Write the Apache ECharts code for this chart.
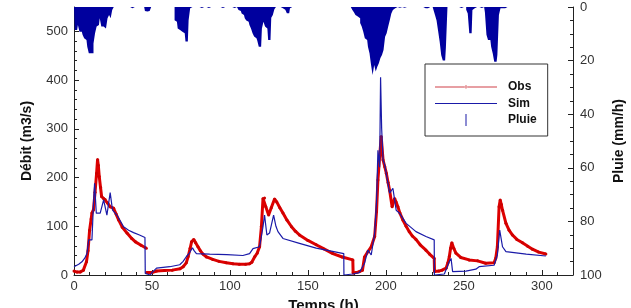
<!DOCTYPE html>
<html>
<head>
<meta charset="utf-8">
<script src="https://cdn.jsdelivr.net/npm/echarts@6/dist/echarts.min.js"></script>
<style>
  html, body { margin: 0; padding: 0; background: #fff; }
  #chart { width: 631px; height: 308px; }
</style>
</head>
<body>
<div id="chart"></div>
<script>
// debit observe [temps h, m3/s] (null = coupure)
const obs = [
  [0, 8], [2, 6], [4, 6], [6, 10], [8, 27], [9, 50], [10, 92], [11, 115], [11.5, 127], [12.5, 134],
  [13.5, 170], [14.5, 209], [15.1, 237], [15.6, 225], [16.2, 202], [17, 180], [17.7, 161], [19, 157],
  [20, 155], [21.5, 148], [23.2, 140], [25.4, 137], [27, 125], [28.6, 113], [31, 98], [34, 86],
  [37, 75], [39.4, 68], [43, 61], [46.4, 55], [46.45, null], [46.5, 5], [50, 5], [53, 8], [58, 9],
  [63, 10], [68, 13], [70, 17], [72, 25], [73.2, 38], [74.5, 55], [75.4, 68], [76.8, 73], [78, 66],
  [79.5, 58], [81, 50], [82.7, 43], [85, 37], [89, 32], [93, 28], [97.7, 25], [102, 23], [106, 22],
  [110, 22], [112.6, 23], [114, 26], [116, 38], [117.5, 45], [119, 58], [120.2, 100], [121.2, 157],
  [122.2, 158], [123, 140], [124.8, 123], [126.5, 138], [128.6, 156], [130, 150], [132, 138],
  [134, 127], [136.5, 113], [139.5, 99], [142, 90], [144.6, 82], [150, 71], [155.3, 62], [160, 54],
  [166, 44], [172, 37], [178.8, 31], [179, 4], [181, 5], [183, 7], [185, 10], [186.3, 37], [188.5, 48],
  [190.6, 58], [192.8, 79], [194, 130], [194.9, 195], [196, 243], [197, 284], [198.2, 236],
  [199.3, 222], [200.3, 209], [201.4, 190], [202.4, 174], [204, 140], [205.6, 157], [206.5, 150],
  [207.7, 140], [209, 127], [210.9, 113], [213, 100], [215, 89], [217, 80], [219.3, 73], [222, 62],
  [225.7, 51], [228, 43], [231, 34], [231.2, 7], [234, 8], [236, 10], [238.6, 14], [239.8, 25],
  [240.7, 38], [241.5, 55], [242.3, 66], [243.5, 55], [244.9, 45], [248, 36], [253.4, 31],
  [258.8, 29], [264, 24], [269.4, 25], [270.5, 35], [271.5, 58], [272.6, 140], [273.3, 154],
  [274, 145], [274.8, 133], [277, 106], [279, 92], [281.2, 82], [284, 73], [287.6, 66], [291, 59],
  [294, 53], [298, 47], [302.6, 43]
]

// debit simule [temps h, m3/s]
const sim = [
  [0, 17], [3, 22], [5.1, 27], [7, 35], [8.3, 44], [9.4, 72], [11.5, 72], [12.6, 154], [13.2, 188],
  [13.7, 160], [14.3, 127], [16.8, 127], [19, 154], [21.1, 123], [23.2, 169], [24.7, 133],
  [27.5, 123], [31.8, 99], [35, 92], [38.2, 87], [42, 82], [45.5, 77], [45.7, 3], [49, 0], [50, 5],
  [52.9, 14], [61.4, 17], [67.8, 21], [70, 28], [72.1, 38], [74, 45], [76, 56], [77, 50], [78.5, 44],
  [87, 43], [98, 42], [108.3, 40], [112.6, 44], [114.8, 54], [119, 58], [120.2, 80], [121.2, 99],
  [122.2, 123], [123.7, 82], [125.4, 86], [128, 123], [129.5, 100], [130.8, 89], [134, 75],
  [144.6, 65], [155.3, 55], [165, 49], [173, 44], [173.1, 0], [178.8, 2], [183, 5], [186.3, 24],
  [188.5, 51], [190.6, 41], [192.8, 86], [194, 150], [194.9, 256], [196, 221], [196.6, 406],
  [197.3, 300], [198.2, 236], [199.3, 226], [200.3, 230], [202.4, 168], [204.5, 178], [206.6, 133],
  [208.7, 127], [213, 106], [219.3, 89], [225.7, 79], [231, 72], [231.1, 0], [237.5, 2], [238.6, 5],
  [240.7, 28], [241.8, 34], [242.8, 7], [251.3, 8], [257.7, 12], [259.8, 17], [269.4, 20],
  [271.5, 41], [273, 92], [274.8, 58], [277, 48], [290, 43], [302.6, 39]
]

// pluie horaire [temps h, mm/h] (heures absentes = 0)
const pluie = [
  [1, 8.6], [2, 8.6], [3, 6.7], [4, 9.2], [5, 9.2], [6, 10.4], [7, 11.7], [8, 12.3], [9, 14.8],
  [10, 17.3], [11, 17.3], [12, 17.3], [13, 13.6], [14, 9.8], [15, 7.3], [16, 6.7], [17, 4.2],
  [18, 7.3], [19, 7.3], [20, 8], [21, 8.6], [22, 4.2], [23, 3], [24, 4.2], [25, 1.1],
  [37, 0.5], [38, 0.8], [46, 1.5], [47, 1.7], [48, 1.5], [49, 1],
  [65, 4.9], [66, 5.5], [67, 8], [68, 8.6], [69, 9.2], [70, 9.2], [71, 9.8], [72, 12.9], [73, 12.9],
  [74, 4.9], [75, 0.5], [82, 0.4], [86, 0.4], [90, 0.4], [95, 0.4], [99, 0.4], [103, 0.4],
  [106, 1.1], [107, 1.5], [108, 2.4], [109, 3], [110, 4.2], [111, 5], [112, 5.5], [113, 6.7],
  [114, 8], [115, 9.8], [116, 11], [117, 11.7], [118, 12.5], [119, 14.8], [120, 14.8], [121, 8],
  [122, 5.5], [123, 7.3], [124, 8], [125, 12.3], [126, 12.3], [127, 4], [128, 3], [129, 0.8],
  [134, 0.5], [135, 1], [136, 1], [137, 2.3], [138, 2.3], [139, 0.5],
  [179, 1.1], [180, 2], [181, 3], [182, 3.5], [183, 4.2], [184, 6], [185, 7.3], [186, 9.2],
  [187, 11.7], [188, 12.3], [189, 14.8], [190, 17.3], [191, 21.6], [192, 25.4], [193, 21.6],
  [194, 24.1], [195, 22.3], [196, 21], [197, 19], [198, 17.9], [199, 16], [200, 11.1], [201, 9.8],
  [202, 7.3], [203, 4.9], [204, 2.4], [205, 1.1], [206, 0.5], [209, 0.3], [212, 0.3],
  [225, 0.5], [227, 0.5],
  [231, 1], [232, 3], [233, 5], [234, 9], [235, 13], [236, 18], [237, 20], [238, 20], [239, 15],
  [246, 0.4], [248, 0.4], [252, 1], [253, 2.4], [254, 9.8], [255, 9.8], [256, 1.1], [257, 0.5],
  [259, 0.4], [261, 0.4],
  [264, 2], [265, 10.4], [266, 12.3], [267, 12.3], [268, 14.8], [269, 17.3], [270, 20.4],
  [271, 20.4], [272, 17.9], [273, 3], [274, 0.5], [275, 0.5], [276, 0.5]
]

// serie horaire complete 0..320 h pour le trace en escalier
const pluieMap = new Map(pluie)
const pluieHoraire = []
for (let h = 0; h <= 320; h++) {
  pluieHoraire.push([h, pluieMap.get(h) || 0])
}

const axisFont = { color: '#333', fontSize: 13, fontFamily: 'Liberation Sans, Arial, sans-serif' }
const nameFont = { color: '#111', fontSize: 14, fontWeight: 'bold', fontFamily: 'Liberation Sans, Arial, sans-serif' }

const chart = echarts.init(document.getElementById('chart'))

chart.setOption({
  animation: false,
  backgroundColor: '#fff',
  grid: { left: 74, right: 58, top: 7, bottom: 33, outerBoundsMode: 'none', containLabel: false },
  legend: {
    orient: 'vertical',
    left: 425,
    top: 64,
    padding: [17, 11, 10, 10],
    itemWidth: 62,
    itemHeight: 12,
    itemGap: 4.5,
    borderColor: '#333',
    borderWidth: 1,
    backgroundColor: '#fff',
    textStyle: { color: '#111', fontSize: 12, fontWeight: 'bold', fontFamily: 'Liberation Sans, Arial, sans-serif', padding: [0, 0, 0, 6] },
    data: [
      { name: 'Obs', icon: 'path://M0,5.6L62,5.6L62,6.4L0,6.4Z M29.6,6a1.4,1.4 0 1,0 2.8,0a1.4,1.4 0 1,0 -2.8,0Z', itemStyle: { color: '#d04048' } },
      { name: 'Sim', icon: 'path://M0,0L62,0L62,1.1L0,1.1Z', itemStyle: { color: '#1a1aa8' } },
      { name: 'Pluie', icon: 'path://M0,0L1,0L1,12L0,12Z', itemStyle: { color: '#1a1aa8' } }
    ]
  },
  xAxis: {
    type: 'value',
    min: 0,
    max: 320,
    interval: 50,
    name: 'Temps (h)',
    nameLocation: 'middle',
    nameGap: 20,
    nameTextStyle: Object.assign({}, nameFont, { fontSize: 15, verticalAlign: 'top' }),
    axisLine: { lineStyle: { color: '#222', width: 1 } },
    axisTick: { inside: true, length: 5, lineStyle: { color: '#222' } },
    minorTick: { show: true, splitNumber: 5, length: 3, lineStyle: { color: '#222' } },
    axisLabel: Object.assign({ margin: 5, showMaxLabel: false }, axisFont),
    splitLine: { show: false }
  },
  yAxis: [
    {
      type: 'value',
      min: 0,
      max: 550,
      interval: 100,
      name: 'Débit (m3/s)',
      nameLocation: 'middle',
      nameGap: 40,
      nameTextStyle: nameFont,
      axisLine: { show: true, lineStyle: { color: '#222', width: 1 } },
      axisTick: { inside: true, length: 5, lineStyle: { color: '#222' } },
      minorTick: { show: true, splitNumber: 5, length: 3, lineStyle: { color: '#222' } },
      axisLabel: Object.assign({ margin: 6, showMaxLabel: false }, axisFont),
      splitLine: { show: false }
    },
    {
      type: 'value',
      min: 0,
      max: 100,
      interval: 20,
      inverse: true,
      position: 'right',
      name: 'Pluie (mm/h)',
      nameLocation: 'middle',
      nameRotate: 90,
      nameGap: 38,
      nameTextStyle: nameFont,
      axisLine: { show: true, lineStyle: { color: '#222', width: 1 } },
      axisTick: { inside: true, length: 5, lineStyle: { color: '#222' } },
      minorTick: { show: true, splitNumber: 4, length: 3, lineStyle: { color: '#222' } },
      axisLabel: Object.assign({ margin: 7 }, axisFont),
      splitLine: { show: false }
    }
  ],
  series: [
    {
      name: 'Pluie',
      type: 'line',
      yAxisIndex: 1,
      data: pluieHoraire,
      step: 'middle',
      showSymbol: false,
      symbol: 'none',
      itemStyle: { color: '#00009e' },
      lineStyle: { width: 0 },
      areaStyle: { color: '#00009e', opacity: 1 },
      z: 1
    },
    {
      name: 'Obs',
      type: 'line',
      data: obs,
      symbol: 'circle',
      symbolSize: 3,
      showSymbol: true,
      itemStyle: { color: '#cc0000' },
      lineStyle: { color: '#dd0000', width: 3 },
      connectNulls: false,
      z: 2
    },
    {
      name: 'Sim',
      type: 'line',
      data: sim,
      showSymbol: false,
      symbol: 'none',
      itemStyle: { color: '#1a1aa8' },
      lineStyle: { color: '#1a1aa8', width: 1.2 },
      z: 3
    }
  ]
})
</script>
</body>
</html>
